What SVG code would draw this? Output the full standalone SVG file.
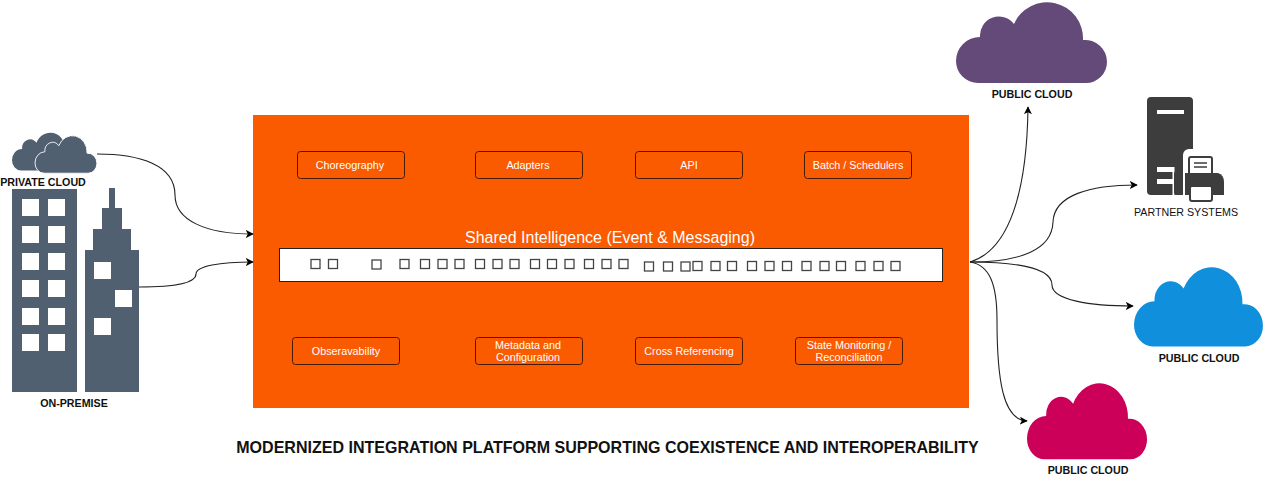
<svg xmlns="http://www.w3.org/2000/svg" width="1265" height="478" viewBox="0 0 1265 478">
<style>
text{font-family:"Liberation Sans",Arial,sans-serif;text-anchor:middle}
.lbl{font-size:10.700px;font-weight:bold;fill:#111}
.box{fill:#fa5a00;stroke:#4a1a00;stroke-width:1}
.bt{font-size:10.800px;fill:#fff}
.sq{fill:#fff;stroke:#444;stroke-width:1.300}
.w{fill:#fff}
.b{fill:#506070}
.c{fill:none;stroke:#222;stroke-width:1.100;marker-end:url(#arr)}
</style>
<defs>
<marker id="arr" viewBox="0 0 10 10" refX="9" refY="5" markerWidth="8" markerHeight="8" markerUnits="userSpaceOnUse" orient="auto"><path d="M0 0L10 5L0 10L2.500 5Z" fill="#000"/></marker>
<path id="cloud" d="M22 80A22 22 0 0 1 0 58A24 24 0 0 1 24 34A19 19 0 0 1 58 21A36 36 0 0 1 127 37A22 22 0 0 1 151 59A21 21 0 0 1 130 80Z"/>
</defs>
<rect width="1265" height="478" fill="#fff"/>
<g id="platform">
<rect x="253" y="115" width="716" height="293" fill="#fa5a00"/>
<text x="610" y="243" font-size="16" fill="#fff">Shared Intelligence (Event &amp; Messaging)</text>
<rect x="279.500" y="248.500" width="663" height="33" fill="#fff" stroke="#222"/>
<g id="queue-squares">
<rect class="sq" x="311" y="259.500" width="9" height="9"/><rect class="sq" x="328.500" y="259.500" width="9" height="9"/><rect class="sq" x="372" y="260" width="9" height="9"/><rect class="sq" x="400" y="259.500" width="9" height="9"/><rect class="sq" x="420.500" y="259.500" width="9" height="9"/><rect class="sq" x="438" y="259.500" width="9" height="9"/><rect class="sq" x="455" y="259.500" width="9" height="9"/><rect class="sq" x="475.500" y="259.500" width="9" height="9"/><rect class="sq" x="493" y="259.500" width="9" height="9"/><rect class="sq" x="510" y="259.500" width="9" height="9"/><rect class="sq" x="530.500" y="259.500" width="9" height="9"/><rect class="sq" x="547.500" y="259.500" width="9" height="9"/><rect class="sq" x="565" y="259.500" width="9" height="9"/><rect class="sq" x="584.500" y="259.500" width="9" height="9"/><rect class="sq" x="602" y="259.500" width="9" height="9"/><rect class="sq" x="619" y="259.500" width="9" height="9"/>
<rect class="sq" x="644.500" y="262" width="9" height="9"/><rect class="sq" x="663.500" y="262" width="9" height="9"/><rect class="sq" x="681" y="262" width="9" height="9"/><rect class="sq" x="693" y="261.500" width="9" height="9"/><rect class="sq" x="711" y="261.500" width="9" height="9"/><rect class="sq" x="727.500" y="261.500" width="9" height="9"/><rect class="sq" x="747.500" y="261.500" width="9" height="9"/><rect class="sq" x="765" y="261.500" width="9" height="9"/><rect class="sq" x="782.500" y="261.500" width="9" height="9"/><rect class="sq" x="802" y="261.500" width="9" height="9"/><rect class="sq" x="820" y="261.500" width="9" height="9"/><rect class="sq" x="836.500" y="261.500" width="9" height="9"/><rect class="sq" x="856" y="261.500" width="9" height="9"/><rect class="sq" x="874" y="261.500" width="9" height="9"/><rect class="sq" x="891" y="261.500" width="9" height="9"/>
</g>
</g>
<g id="choreography"><rect class="box" x="297.500" y="151.500" width="107" height="27" rx="3"/><text class="bt" x="350" y="168.500">Choreography</text></g>
<g id="adapters"><rect class="box" x="475.500" y="151.500" width="107" height="27" rx="3"/><text class="bt" x="528" y="168.500">Adapters</text></g>
<g id="api"><rect class="box" x="635.500" y="151.500" width="107" height="27" rx="3"/><text class="bt" x="689" y="168.500">API</text></g>
<g id="batch"><rect class="box" x="804.500" y="151.500" width="107" height="27" rx="3"/><text class="bt" x="858" y="168.500">Batch / Schedulers</text></g>
<g id="observability"><rect class="box" x="292.500" y="337.500" width="107" height="27" rx="3"/><text class="bt" x="346" y="355">Obseravability</text></g>
<g id="metadata"><rect class="box" x="475.500" y="337.500" width="107" height="27" rx="3"/><text class="bt" x="528" y="348.500">Metadata and</text><text class="bt" x="528" y="361">Configuration</text></g>
<g id="crossref"><rect class="box" x="635.500" y="337.500" width="107" height="27" rx="3"/><text class="bt" x="689" y="355">Cross Referencing</text></g>
<g id="state"><rect class="box" x="795.500" y="337.500" width="107" height="27" rx="3"/><text class="bt" x="849" y="348.500">State Monitoring /</text><text class="bt" x="849" y="361">Reconciliation</text></g>
<g id="private-cloud">
<use href="#cloud" class="b" transform="translate(12 133) scale(.42 .47)"/>
<use href="#cloud" class="b" stroke="#fff" stroke-width="2" transform="translate(35 136) scale(.41 .465)"/>
<text class="lbl" x="43" y="186">PRIVATE CLOUD</text>
</g>
<g id="on-premise">
<rect class="b" x="12" y="189" width="65" height="203"/>
<g class="w"><rect x="22" y="199" width="17" height="17"/><rect x="48" y="199" width="17" height="17"/><rect x="22" y="226" width="17" height="17"/><rect x="48" y="226" width="17" height="17"/><rect x="22" y="253" width="17" height="17"/><rect x="48" y="253" width="17" height="17"/><rect x="22" y="280" width="17" height="17"/><rect x="48" y="280" width="17" height="17"/><rect x="22" y="308" width="17" height="17"/><rect x="48" y="308" width="17" height="17"/><rect x="22" y="334" width="17" height="17"/><rect x="48" y="334" width="17" height="17"/></g>
<path class="b" d="M85 392V250H93V229H102V208H109V188H115V208H122V229H131V250H139V392Z"/>
<g class="w"><rect x="94" y="262" width="17" height="17"/><rect x="115" y="290" width="17" height="17"/><rect x="94" y="318" width="17" height="17"/></g>
<text class="lbl" x="74" y="407">ON-PREMISE</text>
</g>
<g id="cloud-purple"><use href="#cloud" fill="#644a78" transform="translate(956 3)"/><text class="lbl" x="1032" y="98">PUBLIC CLOUD</text></g>
<g id="partner-systems">
<path fill="#3d3d3d" d="M1151 97H1189Q1193 97 1193 101V195H1151Q1147 195 1147 191V101Q1147 97 1151 97Z"/>
<rect x="1157" y="110" width="27" height="4" fill="#fff"/>
<rect x="1157" y="167" width="17" height="5" fill="#fff"/>
<rect x="1157" y="179" width="17" height="5" fill="#fff"/>
<rect x="1172.500" y="167" width="2" height="29" fill="#fff"/>
<rect x="1183" y="149" width="46" height="54" rx="6" fill="#fff"/>
<rect x="1174" y="171" width="8" height="24" rx="3" fill="#3d3d3d"/>
<rect x="1189" y="157" width="23" height="22" rx="2" fill="#fff" stroke="#3d3d3d" stroke-width="2"/>
<path d="M1194 163H1207M1194 167H1207" stroke="#3d3d3d" stroke-width="1.500"/>
<path fill="#3d3d3d" d="M1185 173H1218Q1224 175 1224 182V195H1185Z"/>
<rect x="1190" y="186" width="22" height="15" rx="2" fill="#fff" stroke="#3d3d3d" stroke-width="2"/>
<text x="1186" y="216" font-size="10.700" fill="#111">PARTNER SYSTEMS</text>
</g>
<g id="cloud-blue"><use href="#cloud" fill="#0f8fdc" transform="translate(1134 268) scale(.854 .98)"/><text class="lbl" x="1199" y="361.500">PUBLIC CLOUD</text></g>
<g id="cloud-pink"><use href="#cloud" fill="#cc0058" transform="translate(1027 384) scale(.795 .94)"/><text class="lbl" x="1088" y="474">PUBLIC CLOUD</text></g>
<g id="connectors">
<path class="c" d="M97 154C140 154 175 165 175 195C175 220 205 234 253 234"/>
<path class="c" d="M139 287C170 287 196 284 196 274C196 266 220 262 253 262"/>
<path class="c" d="M970 262C1010 250 1027 190 1028 107"/>
<path class="c" d="M970 262C1020 262 1052 250 1053 222C1054 195 1090 185 1137 185"/>
<path class="c" d="M970 262C1020 262 1052 268 1052 285C1052 300 1090 306 1133 306"/>
<path class="c" d="M970 262C990 265 997 285 997 320C997 380 1003 420 1027 421"/>
</g>
<text id="title" x="607.500" y="453" font-size="16.050" font-weight="bold" fill="#111">MODERNIZED INTEGRATION PLATFORM SUPPORTING COEXISTENCE AND INTEROPERABILITY</text>
</svg>
